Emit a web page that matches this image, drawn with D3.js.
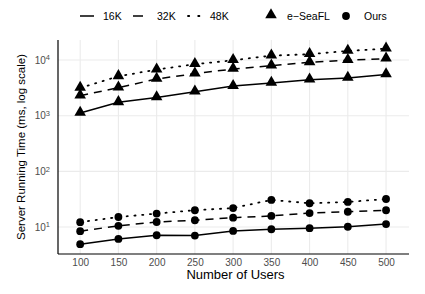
<!DOCTYPE html>
<html>
<head>
<meta charset="utf-8">
<script src="https://cdn.jsdelivr.net/npm/d3@7"></script>
<style>
  body { margin: 0; background: #fff; }
  svg { font-family: "Liberation Sans", Arial, sans-serif; }
</style>
</head>
<body>
<svg width="425" height="294"></svg>
<script>
var users = [100, 150, 200, 250, 300, 350, 400, 450, 500];
var seafl16 = [1120, 1740, 2130, 2700, 3400, 3880, 4440, 4760, 5500];
var seafl32 = [2290, 3180, 4570, 5690, 6900, 7930, 9100, 9900, 10600];
var seafl48 = [3150, 5100, 6730, 8400, 9900, 12000, 12700, 14600, 16000];
var ours16 = [4.9, 6.1, 7.1, 7.0, 8.5, 9.1, 9.5, 10.1, 11.3];
var ours32 = [8.4, 10.5, 12.3, 13.2, 14.7, 15.8, 17.8, 18.8, 20];
var ours48 = [12.2, 15.1, 17.4, 20, 21.9, 30.6, 26.7, 28.2, 31.8];
var sizeLabels = ["16K", "32K", "48K"];
var methodLabels = ["e\u2212SeaFL", "Ours"];
var yTicks = [10, 100, 1000, 10000];

var dashes = { "16K": null, "32K": "8,6", "48K": "1.2,6.6" };

var series = [
  { size: "16K", method: "e-SeaFL", values: seafl16 },
  { size: "32K", method: "e-SeaFL", values: seafl32 },
  { size: "48K", method: "e-SeaFL", values: seafl48 },
  { size: "16K", method: "Ours", values: ours16 },
  { size: "32K", method: "Ours", values: ours32 },
  { size: "48K", method: "Ours", values: ours48 }
];

var svg = d3.select("svg");
var pLeft = 58, pRight = 409, pTop = 40, pBottom = 254;

var x = d3.scaleLinear().domain([71, 530]).range([pLeft, pRight]);
var y = d3.scaleLog().domain([3.27, 22900]).range([pBottom, pTop]);

// grid
var grid = svg.append("g");
grid.selectAll(".vx").data(users).enter().append("line")
    .attr("x1", function(d) { return x(d); })
    .attr("x2", function(d) { return x(d); })
    .attr("y1", pTop).attr("y2", pBottom)
    .style("stroke", "#ebebeb").style("stroke-width", 1.1);
grid.selectAll(".hy").data(yTicks).enter().append("line")
    .attr("x1", pLeft).attr("x2", pRight)
    .attr("y1", function(d) { return y(d); })
    .attr("y2", function(d) { return y(d); })
    .style("stroke", "#ebebeb").style("stroke-width", 1.1);

// axes
var xAxis = svg.append("g")
    .attr("transform", "translate(0," + pBottom + ")")
    .call(d3.axisBottom(x).tickValues(users).tickSize(0).tickPadding(5));
xAxis.select(".domain").attr("d", "M" + pLeft + ",0H" + pRight).style("stroke", "#000").style("stroke-width", 1.2);
xAxis.selectAll("text").style("font-size", "10px").style("fill", "#4d4d4d");

var yAxis = svg.append("g")
    .attr("transform", "translate(" + pLeft + ",0)")
    .call(d3.axisLeft(y).tickValues(yTicks).tickSize(0).tickPadding(8).tickFormat(function() { return ""; }));
yAxis.select(".domain").attr("d", "M0," + pTop + "V" + pBottom).style("stroke", "#000").style("stroke-width", 1.2);
yAxis.selectAll(".tick text").each(function(d) {
  var t = d3.select(this).style("font-size", "10px").style("fill", "#4d4d4d");
  t.append("tspan").text("10");
  t.append("tspan").attr("dy", "-0.45em").style("font-size", "7.5px").text(Math.round(Math.log10(d)));
});

// lines
var line = d3.line()
    .x(function(d, i) { return x(users[i]); })
    .y(function(d) { return y(d); });

svg.selectAll(".series").data(series).enter().append("path")
    .attr("d", function(s) { return line(s.values); })
    .style("fill", "none")
    .style("stroke", "#000")
    .style("stroke-width", function(s) { return s.size === "48K" ? 1.8 : 1.5; })
    .style("stroke-linecap", function(s) { return s.size === "48K" ? "round" : "butt"; })
    .style("stroke-dasharray", function(s) { return dashes[s.size]; });

var tri = d3.symbol().type(d3.symbolTriangle).size(58);
series.forEach(function(s) {
  var g = svg.append("g");
  s.values.forEach(function(v, i) {
    if (s.method === "Ours") {
      g.append("circle").attr("cx", x(users[i])).attr("cy", y(v)).attr("r", 3.9).style("fill", "#000");
    } else {
      g.append("path").attr("d", tri)
          .attr("transform", "translate(" + x(users[i]) + "," + (y(v) - 0.5) + ")")
          .style("fill", "#000");
    }
  });
});

// axis titles
svg.append("text")
    .attr("x", (pLeft + pRight) / 2 + 2).attr("y", 279)
    .attr("text-anchor", "middle")
    .style("font-size", "13px").style("fill", "#000")
    .text("Number of Users");
svg.append("text")
    .attr("transform", "translate(25," + ((pTop + pBottom) / 2) + ") rotate(-90)")
    .attr("text-anchor", "middle")
    .style("font-size", "11.5px").style("fill", "#000")
    .text("Server Running Time (ms, log scale)");

// legend
var legY = 16;
var leg = svg.append("g");
var sizeKeyX = [80, 133, 188];
var sizeTextX = [103, 157, 210];
var legDash = { "16K": null, "32K": "10,20", "48K": "1.2,9" };
sizeLabels.forEach(function(lbl, i) {
  leg.append("line")
      .attr("x1", sizeKeyX[i]).attr("x2", sizeKeyX[i] + 14)
      .attr("y1", legY).attr("y2", legY)
      .style("stroke", "#000").style("stroke-width", lbl === "48K" ? 1.8 : 1.5)
      .style("stroke-linecap", lbl === "48K" ? "round" : "butt")
      .style("stroke-dasharray", legDash[lbl]);
  leg.append("text").attr("x", sizeTextX[i]).attr("y", legY + 4)
      .style("font-size", "10.5px").text(lbl);
});
leg.append("path").attr("d", tri).attr("transform", "translate(271," + (legY - 1) + ")");
leg.append("text").attr("x", 287).attr("y", legY + 4).style("font-size", "10.5px").text(methodLabels[0]);
leg.append("circle").attr("cx", 346).attr("cy", legY).attr("r", 3.9);
leg.append("text").attr("x", 364).attr("y", legY + 4).style("font-size", "10.5px").text(methodLabels[1]);
</script>
</body>
</html>
